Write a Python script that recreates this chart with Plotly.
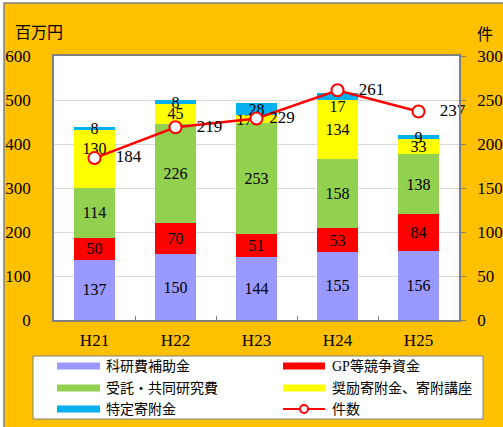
import plotly.graph_objects as go

categories = ["H21", "H22", "H23", "H24", "H25"]
kaken = [137, 150, 144, 155, 156]
gp = [50, 70, 51, 53, 84]
jutaku = [114, 226, 253, 158, 138]
shorei = [130, 45, 17, 134, 33]
tokutei = [8, 8, 28, 17, 9]
kensu = [184, 219, 229, 261, 237]

bar_names = ["科研費補助金", "GP等競争資金", "受託・共同研究費", "奨励寄附金、寄附講座", "特定寄附金"]
line_name = "件数"
left_ticks = [0, 100, 200, 300, 400, 500, 600]
right_ticks = [0, 50, 100, 150, 200, 250, 300]

bar_colors = ["#9999FF", "#FF0000", "#92D050", "#FFFF00", "#00B0F0"]
ORANGE = "#FFC000"
GREY = "#808080"
FONT = "Liberation Serif, Noto Sans CJK JP"
NB = "\u00a0"

W, H = 503, 427
L, R, T, B = 54, 44, 56, 107
PW, PH = W - L - R, H - T - B


def fx(px):
    return (px - L) / PW


def fy(py):
    return (H - B - py) / PH


fig = go.Figure()
for name, vals, col in zip(bar_names, [kaken, gp, jutaku, shorei, tokutei], bar_colors):
    fig.add_trace(go.Bar(
        x=categories, y=vals, name=name, marker=dict(color=col, line=dict(width=0)),
        text=[str(v) for v in vals], textposition="inside", insidetextanchor="middle",
        textangle=0, constraintext="none",
        textfont=dict(family=FONT, size=16, color="black"),
        showlegend=False,
    ))
# label nudges as placed in the reference
fig.data[3].text = [str(shorei[0]) + "<br> ", str(shorei[1]), str(shorei[2]) + NB * 6,
                    str(shorei[3]), str(shorei[4])]
fig.data[4].text = [str(tokutei[0]), str(tokutei[1]), str(tokutei[2]), " <br>" + str(tokutei[3]),
                    str(tokutei[4])]

pads = [NB * 3, NB * 3, NB, NB * 3, NB * 3]
fig.add_trace(go.Scatter(
    x=categories, y=kensu, name=line_name, yaxis="y2", mode="lines+markers+text",
    line=dict(color="#FF0000", width=2.5),
    marker=dict(symbol="circle", size=12, color="white", line=dict(color="#FF0000", width=2)),
    text=[p + str(v) for p, v in zip(pads, kensu)], textposition="middle right",
    textfont=dict(family=FONT, size=17, color="black"),
    cliponaxis=False, showlegend=False,
))

shapes = [
    dict(type="rect", xref="paper", yref="paper", x0=fx(4), x1=fx(504), y0=fy(428), y1=fy(3),
         fillcolor=ORANGE, line=dict(color=GREY, width=1.5), layer="below"),
    dict(type="rect", xref="paper", yref="paper", x0=0, x1=1, y0=0, y1=1,
         fillcolor="white", line=dict(width=0), layer="below"),
    dict(type="rect", xref="paper", yref="paper", x0=fx(33), x1=fx(483), y0=fy(419), y1=fy(356),
         fillcolor="white", line=dict(color=GREY, width=1)),
]
annotations = [
    dict(text="百万円", xref="paper", yref="paper", x=fx(13), y=fy(31), xanchor="left",
         yanchor="middle", showarrow=False, font=dict(family="Noto Sans CJK JP", size=16, color="black")),
    dict(text="件", xref="paper", yref="paper", x=fx(475), y=fy(33), xanchor="left",
         yanchor="middle", showarrow=False, font=dict(family="Noto Sans CJK JP", size=16, color="black")),
]

rows = [366, 388, 409]
legend_items = [(bar_names[0], bar_colors[0], 0, 0), (bar_names[1], bar_colors[1], 1, 0),
                (bar_names[2], bar_colors[2], 0, 1), (bar_names[3], bar_colors[3], 1, 1),
                (bar_names[4], bar_colors[4], 0, 2)]
cols = [(57, 100, 104), (283, 325, 330)]
for name, col, c, r in legend_items:
    s0, s1, tx = cols[c]
    py = rows[r]
    shapes.append(dict(type="rect", xref="paper", yref="paper", x0=fx(s0), x1=fx(s1),
                       y0=fy(py + 3.5), y1=fy(py - 3.5), fillcolor=col, line=dict(width=0)))
    annotations.append(dict(text=name, xref="paper", yref="paper", x=fx(tx), y=fy(py),
                            xanchor="left", yanchor="middle", showarrow=False,
                            font=dict(family=FONT, size=14, color="black")))
# line legend
s0, s1, tx = cols[1]
py = rows[2]
shapes.append(dict(type="line", xref="paper", yref="paper", x0=fx(s0), x1=fx(s1), y0=fy(py), y1=fy(py),
                   line=dict(color="#FF0000", width=2)))
cx = (s0 + s1) / 2
shapes.append(dict(type="circle", xref="paper", yref="paper", x0=fx(cx - 4), x1=fx(cx + 4),
                   y0=fy(py + 4), y1=fy(py - 4), fillcolor="white", line=dict(color="#FF0000", width=2)))
annotations.append(dict(text=line_name, xref="paper", yref="paper", x=fx(tx), y=fy(py),
                        xanchor="left", yanchor="middle", showarrow=False,
                        font=dict(family=FONT, size=14, color="black")))

fig.update_layout(
    width=W, height=H, autosize=False,
    margin=dict(l=L, r=R, t=T, b=B, pad=0, autoexpand=False),
    paper_bgcolor="white", plot_bgcolor="white",
    barmode="stack", bargap=0.5,
    showlegend=False,
    font=dict(family=FONT, color="black"),
    xaxis=dict(type="category", showline=True, linecolor=GREY, linewidth=1.5, mirror=True,
               ticks="inside", tickson="boundaries", ticklen=4, tickcolor=GREY,
               tickfont=dict(family=FONT, size=17, color="black"), showgrid=False,
               ticklabelstandoff=4, automargin=False),
    yaxis=dict(range=[0, 600], tickvals=left_ticks, showgrid=True, gridcolor="#D9D9D9",
               showline=True, linecolor=GREY, linewidth=1.5, mirror=True, ticks="",
               zeroline=False, tickfont=dict(family=FONT, size=17, color="black"),
               ticklabelstandoff=18, automargin=False),
    yaxis2=dict(range=[0, 300], tickvals=right_ticks, overlaying="y", side="right",
                showgrid=False, showline=True, linecolor=GREY, linewidth=1.5,
                ticks="outside", ticklen=5, tickcolor=GREY, zeroline=False,
                tickfont=dict(family=FONT, size=17, color="black"), ticklabelstandoff=8,
                automargin=False),
    shapes=shapes, annotations=annotations,
)

fig.write_html("out.html", config={"displayModeBar": False},
               post_script="document.body.style.margin='0';")
